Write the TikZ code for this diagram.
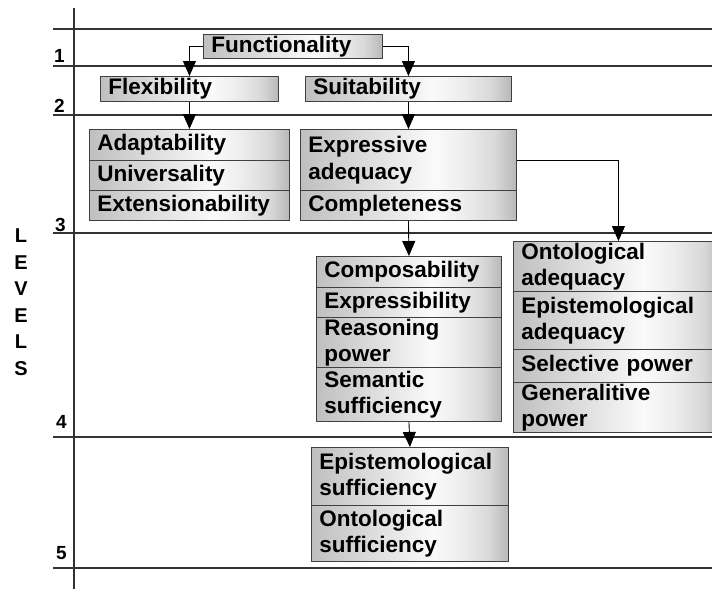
\documentclass[tikz,border=0pt]{standalone}
\usepackage{fontspec}
\setmainfont{Liberation Sans}
\usetikzlibrary{arrows.meta}
\definecolor{sA}{gray}{0.75}
\definecolor{sB}{gray}{0.98}
\definecolor{sC}{gray}{0.93}
\definecolor{sD}{gray}{0.85}
\definecolor{sE}{gray}{0.72}
\pgfdeclarehorizontalshading{boxshade}{100bp}{color(0bp)=(sA); color(25bp)=(sA); color(56bp)=(sB); color(63bp)=(sC); color(70bp)=(sD); color(75bp)=(sE); color(100bp)=(sE)}
\tikzset{
  cell/.style={draw=black!75, line width=0.9pt, shading=boxshade, anchor=north west,
    inner xsep=8pt, inner ysep=0pt, align=left,
    font=\fontsize{22.5}{26.5}\selectfont\bfseries},
  levelline/.style={draw=black!80, line width=1.2pt},
  arr/.style={draw=black, line width=0.9pt, -{Triangle[length=15pt,width=13pt]}},
  lvnum/.style={anchor=base west, inner sep=0pt, font=\fontsize{19}{19}\selectfont\bfseries},
  lvlet/.style={inner sep=0pt, font=\fontsize{20}{20}\selectfont\bfseries}
}
\begin{document}
\begin{tikzpicture}[x=1pt,y=-1pt]
\useasboundingbox (0,0) rectangle (712,589);
\clip (0,0) rectangle (712,589);
% axis and level lines
\draw[levelline] (74,8) -- (74,589);
\foreach \yy in {29,66,115,233,437,568} {\draw[levelline] (53,\yy) -- (712,\yy);}
% level numbers
\node[lvnum] (n1) at (54,62) {1};
\node[lvnum] (n2) at (54,112) {2};
\node[lvnum] (n3) at (55,231) {3};
\node[lvnum] (n4) at (56,428) {4};
\node[lvnum] (n5) at (56,559) {5};
% LEVELS
\node[lvlet] (l1) at (21,236) {L};
\node[lvlet] (l2) at (21,262.6) {E};
\node[lvlet] (l3) at (21,289) {V};
\node[lvlet] (l4) at (21,316) {E};
\node[lvlet] (l5) at (21,342) {L};
\node[lvlet] (l6) at (21,369) {S};
% level 1-2
\node[cell, text width=163pt, minimum height=24pt] (func) at (203,34) {Functionality};
\node[cell, text width=162pt, minimum height=25pt] (flex) at (100,76) {Flexibility};
\node[cell, text width=190pt, minimum height=25pt] (suit) at (305,76) {Suitability};
% level 3
\node[cell, text width=184pt, minimum height=31pt] (adapt) at (89,129) {Adaptability};
\node[cell, text width=184pt, minimum height=30pt] (univ) at (89,160) {Universality};
\node[cell, text width=184pt, minimum height=30pt] (ext) at (89,190) {Extensionability};
\node[cell, text width=200pt, minimum height=61pt] (expr) at (300,129) {Expressive\\adequacy};
\node[cell, text width=200pt, minimum height=30pt] (compl) at (300,190) {Completeness};
% level 4
\node[cell, text width=169pt, minimum height=31pt] (compos) at (316,256) {Composability};
\node[cell, text width=169pt, minimum height=30pt] (exprb) at (316,287) {Expressibility};
\node[cell, text width=169pt, minimum height=50pt] (reas) at (316,317) {Reasoning\\power};
\node[cell, text width=169pt, minimum height=54pt] (sem) at (316,367) {Semantic\\sufficiency};
\node[cell, text width=194pt, minimum height=50pt] (onto) at (513,241) {Ontological\\adequacy};
\node[cell, text width=194pt, minimum height=58pt] (epad) at (513,291) {Epistemological\\adequacy};
\node[cell, text width=194pt, minimum height=33pt] (sel) at (513,349) {Selective power};
\node[cell, text width=194pt, minimum height=50pt] (gen) at (513,382) {Generalitive\\power};
% level 5
\node[cell, text width=181pt, minimum height=58pt] (epsuf) at (311,447) {Epistemological\\sufficiency};
\node[cell, text width=181pt, minimum height=56pt] (ontsuf) at (311,505) {Ontological\\sufficiency};
% arrows
\draw[arr] (func.west) -| (flex.north);
\draw[arr] (func.east) -| (suit.north);
\draw[arr] (flex.south) -- (adapt.north);
\draw[arr] (suit.south) -- (expr.north);
\draw[arr] (expr.east) -| (onto.north);
\draw[arr] (compl.south) -- (compos.north);
\draw[arr] (sem.south) -- (epsuf.north);
\end{tikzpicture}
\end{document}
